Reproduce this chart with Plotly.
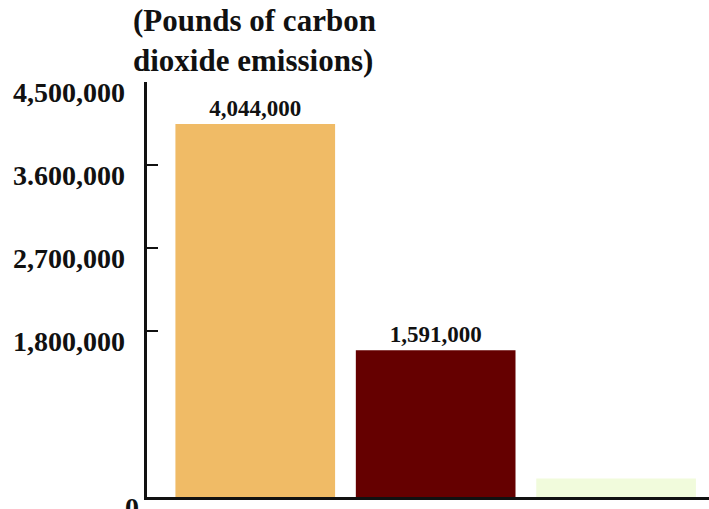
import plotly.graph_objects as go

# Emissions per source (pounds of CO2)
positions = [0, 1, 2]
emissions = [4044000, 1591000, 200000]
bar_colors = ["#f0bb66", "#650000", "#f1fbdc"]
value_labels = ["<b>4,044,000</b>", "<b>1,591,000</b>", ""]

tick_values = [0, 1800000, 2700000, 3600000, 4500000]
tick_labels = ["0", "1,800,000", "2,700,000", "3.600,000", "4,500,000"]

serif = "Liberation Serif, Times New Roman, serif"

fig = go.Figure()
fig.add_trace(go.Bar(
    x=positions,
    y=emissions,
    marker=dict(color=bar_colors, line=dict(width=0)),
    text=value_labels,
    textposition="outside",
    textfont=dict(family=serif, size=23, color="#111111"),
    cliponaxis=False,
    hoverinfo="skip",
))

# Y tick labels drawn as annotations, sitting slightly below their tick marks
for v, lab in zip(tick_values, tick_labels):
    fig.add_annotation(
        x=0, xref="paper", y=v, yref="y",
        text=f"<b>{lab}</b>", showarrow=False,
        xanchor="right", yanchor="top",
        xshift=-20 if v else -6, yshift=7,
        font=dict(family=serif, size=28, color="#111111"),
    )

fig.add_annotation(
    x=0, xref="paper", y=1, yref="paper",
    text="<b>(Pounds of carbon<br>dioxide emissions)</b>",
    showarrow=False, align="left",
    xanchor="left", yanchor="bottom",
    xshift=-16, yshift=2,
    font=dict(family=serif, size=31, color="#111111"),
)

fig.update_layout(
    width=709, height=509,
    margin=dict(l=147, r=0, t=82, b=12),
    paper_bgcolor="white", plot_bgcolor="white",
    bargap=0.115,
    showlegend=False,
    xaxis=dict(
        range=[-0.6, 2.515], showticklabels=False, ticks="",
        showgrid=False, zeroline=False,
        showline=True, linecolor="#111111", linewidth=3,
    ),
    yaxis=dict(
        range=[0, 4500000], tickvals=tick_values[1:], showticklabels=False,
        ticks="inside", ticklen=11, tickwidth=2, tickcolor="#111111",
        showgrid=False, zeroline=False,
        showline=True, linecolor="#111111", linewidth=3,
    ),
)

fig.write_html("out.html")
